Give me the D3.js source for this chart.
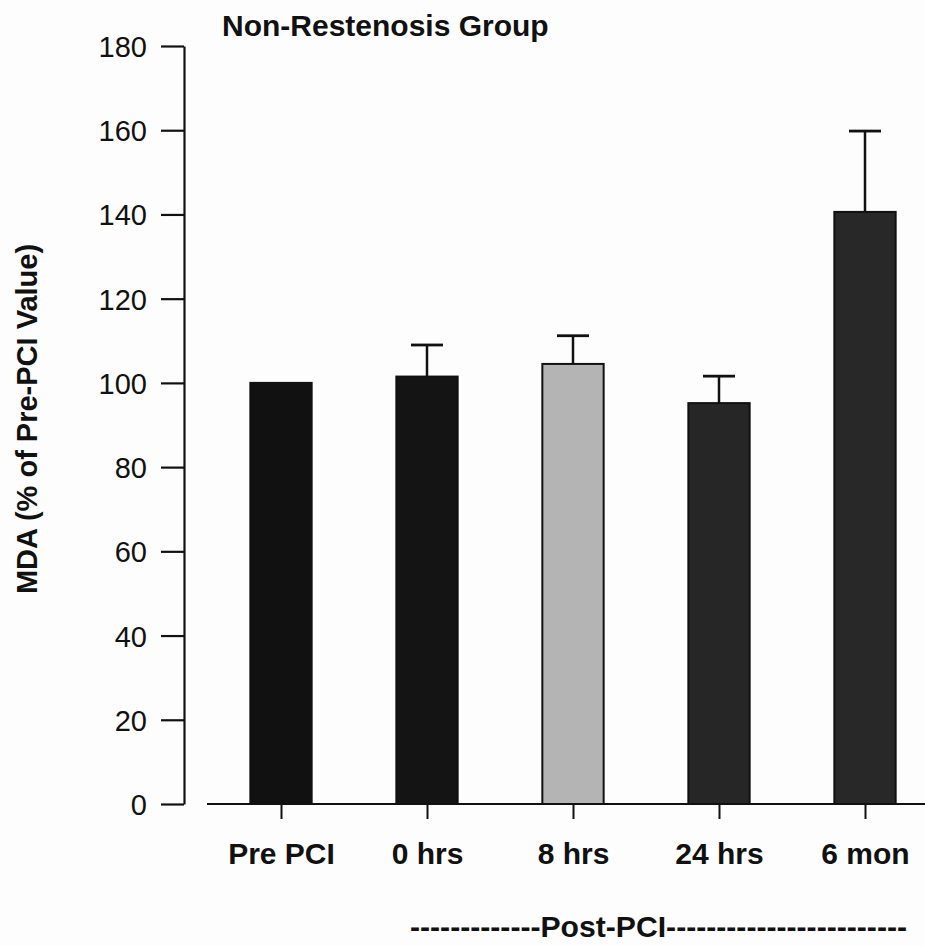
<!DOCTYPE html>
<html>
<head>
<meta charset="utf-8">
<script src="https://cdn.jsdelivr.net/npm/d3@7"></script>
<style>
  body { margin: 0; background: #fdfdfd; }
  svg { display: block; }
  text { font-family: "Liberation Sans", Arial, sans-serif; fill: #111; }
</style>
</head>
<body>
<svg id="chart"></svg>
<script>
// MDA, non-restenosis group

/*  DATA  */
const categories = ['Pre PCI', '0 hrs', '8 hrs', '24 hrs', '6 mon'];
const means = [100, 101.5, 104.5, 95.2, 140.6];
const errors = [0, 7.5, 6.7, 6.4, 19.2];
const barColors = ['#111111', '#141414', '#b4b4b4', '#262626', '#282828'];
const yTicks = [0, 20, 40, 60, 80, 100, 120, 140, 160, 180];

const width = 925,
    height = 946;

const svg = d3.select('#chart')
    .attr('width', width)
    .attr('height', height);

/* SCALES */
const y = d3.scaleLinear()
    .domain([0, 180])
    .range([804, 46]);

const x = d3.scalePoint()
    .domain(categories)
    .range([281, 865]);

const barW = x.step() * 0.42;

/* AXES */
// y axis: line at x=184, ticks going left
const yAxis = d3.axisLeft(y)
    .tickValues(yTicks)
    .tickSize(23)
    .tickPadding(14)
    .tickSizeOuter(0);

const gy = svg.append('g')
    .attr('transform', 'translate(184,0)')
    .call(yAxis);

gy.select('.domain').attr('stroke', '#111').attr('stroke-width', 2.2);
gy.selectAll('.tick line').attr('stroke', '#111').attr('stroke-width', 2.2);
gy.selectAll('.tick text')
    .style('font-size', '29px')
    .attr('fill', '#111')
    .attr('dy', '0.36em');

// x axis: baseline plus small ticks under each bar
const xAxis = d3.axisBottom(x)
    .tickSize(15)
    .tickPadding(24)
    .tickSizeOuter(0);

const gx = svg.append('g')
    .attr('transform', 'translate(0,' + y(0) + ')')
    .call(xAxis);

gx.select('.domain').remove();
gx.selectAll('.tick line').attr('stroke', '#111').attr('stroke-width', 2);
gx.selectAll('.tick text')
    .style('font-size', '30px')
    .style('font-weight', 'bold')
    .attr('fill', '#111');

svg.append('line')
    .attr('x1', 207).attr('x2', width)
    .attr('y1', y(0)).attr('y2', y(0))
    .attr('stroke', '#111')
    .attr('stroke-width', 2.2);

/* BARS */
const rows = categories.map((c, i) => ({ cat: c, mean: means[i], err: errors[i], color: barColors[i] }));

const bars = svg.append('g').selectAll('g')
    .data(rows)
    .enter().append('g');

// error bars drawn first so the bar covers the stem
bars.filter(d => d.err > 0).append('line')
    .attr('x1', d => x(d.cat)).attr('x2', d => x(d.cat))
    .attr('y1', d => y(d.mean)).attr('y2', d => y(d.mean + d.err))
    .attr('stroke', '#111').attr('stroke-width', 2.5);

bars.filter(d => d.err > 0).append('line')
    .attr('x1', d => x(d.cat) - 16).attr('x2', d => x(d.cat) + 16)
    .attr('y1', d => y(d.mean + d.err)).attr('y2', d => y(d.mean + d.err))
    .attr('stroke', '#111').attr('stroke-width', 2.8);

bars.append('rect')
    .attr('x', d => x(d.cat) - barW / 2)
    .attr('y', d => y(d.mean))
    .attr('width', barW)
    .attr('height', d => y(0) - y(d.mean))
    .attr('fill', d => d.color)
    .attr('stroke', '#111')
    .attr('stroke-width', 2);

/* TEXT */
svg.append('text')
    .attr('x', 222).attr('y', 36)
    .style('font-size', '30px')
    .style('font-weight', 'bold')
    .text('Non-Restenosis Group');

svg.append('text')
    .attr('transform', 'translate(37,419) rotate(-90)')
    .attr('text-anchor', 'middle')
    .style('font-size', '29px')
    .style('font-weight', 'bold')
    .text('MDA (% of Pre-PCI Value)');

svg.append('text')
    .attr('x', 410).attr('y', 937)
    .attr('textLength', 497)
    .attr('lengthAdjust', 'spacingAndGlyphs')
    .style('font-size', '30px')
    .style('font-weight', 'bold')
    .text('-------------Post-PCI------------------------');
</script>
</body>
</html>
